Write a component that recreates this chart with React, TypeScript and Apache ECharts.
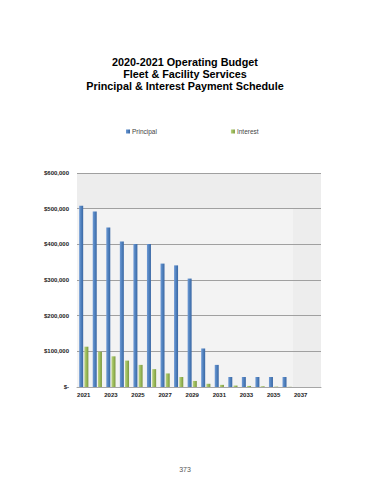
import React, { useEffect, useRef } from "react";
import * as echarts from "echarts";

const years = ["2021","2022","2023","2024","2025","2026","2027","2028","2029","2030","2031","2032","2033","2034","2035","2036","2037","2038"];
const principal = [508000, 492000, 447000, 408000, 401000, 401000, 346000, 341000, 304000, 108000, 62000, 28000, 28000, 28000, 28000, 28000, null, null];
const interest = [113000, 99000, 86000, 74000, 62000, 50000, 38000, 28000, 17000, 9000, 6000, 4000, 3000, 2000, 1000, 500, null, null];
const yTicks = [0, 100000, 200000, 300000, 400000, 500000, 600000];
const titleLines = ["2020-2021 Operating Budget", "Fleet & Facility Services", "Principal & Interest Payment Schedule"];

export default function App() {
  const ref = useRef<HTMLDivElement>(null);
  useEffect(() => {
    const chart = echarts.init(ref.current!, null, { renderer: "svg" });
    const blue = new echarts.graphic.LinearGradient(0, 0, 1, 0, [
      { offset: 0, color: "#6f9ad6" },
      { offset: 0.5, color: "#4f81bd" },
      { offset: 1, color: "#3a66a3" },
    ]);
    const green = new echarts.graphic.LinearGradient(0, 0, 1, 0, [
      { offset: 0, color: "#bad283" },
      { offset: 0.5, color: "#9bbb59" },
      { offset: 1, color: "#7b9640" },
    ]);
    chart.setOption({
      animation: false,
      backgroundColor: "#ffffff",
      textStyle: { fontFamily: "Liberation Sans, Arial, sans-serif" },
      title: {
        text: titleLines.join("\n"),
        left: "center",
        top: 51,
        textStyle: { fontSize: 10.8, fontWeight: "bold", color: "#000", lineHeight: 12, fontFamily: "Liberation Sans, Arial, sans-serif" },
      },
      legend: {
        data: [
          { name: "Principal", icon: "rect" },
          { name: "Interest", icon: "rect" },
        ],
        left: 121,
        top: 123,
        itemWidth: 4,
        itemHeight: 4,
        itemGap: 74,
        textStyle: { fontSize: 6.5, color: "#444", padding: [0, 0, 0, -3] },
      },
      graphic: [
        { type: "rect", shape: { x: 77, y: 173, width: 244, height: 214 }, style: { fill: "#f3f3f3" }, z: -10, silent: true },
        { type: "rect", shape: { x: 77, y: 173, width: 244, height: 36 }, style: { fill: "#ededed" }, z: -9, silent: true },
        { type: "rect", shape: { x: 293, y: 173, width: 28, height: 214 }, style: { fill: "#ededed" }, z: -9, silent: true },
        { type: "text", left: "center", top: 466, style: { text: "373", fontSize: 7, fill: "#555", fontFamily: "Liberation Sans, Arial, sans-serif" } },
      ],
      grid: { left: 77, right: 49, top: 173, bottom: 93 },
      xAxis: {
        type: "category",
        data: years,
        axisTick: { show: false },
        axisLine: { lineStyle: { color: "#a6a6a6", width: 1 } },
        axisLabel: { interval: 1, fontSize: 6, fontWeight: "bold", color: "#222", margin: 5 },
      },
      yAxis: {
        type: "value",
        min: 0,
        max: 600000,
        interval: 100000,
        axisLine: { show: false },
        axisTick: { show: false },
        splitLine: { lineStyle: { color: "#a0a0a0", width: 1 } },
        axisLabel: {
          fontSize: 6,
          fontWeight: "bold",
          color: "#222",
          margin: 8,
          formatter: (v: number) => (yTicks.includes(v) ? (v === 0 ? "$-" : "$" + v.toLocaleString("en-US")) : ""),
        },
      },
      series: [
        { name: "Principal", type: "bar", data: principal, barWidth: 4, barGap: "30%", itemStyle: { color: blue } },
        { name: "Interest", type: "bar", data: interest, barWidth: 4, itemStyle: { color: green } },
      ],
    });
    return () => chart.dispose();
  }, []);
  return <div ref={ref} style={{ position: "fixed", left: 0, top: 0, width: 370, height: 480 }} />;
}
